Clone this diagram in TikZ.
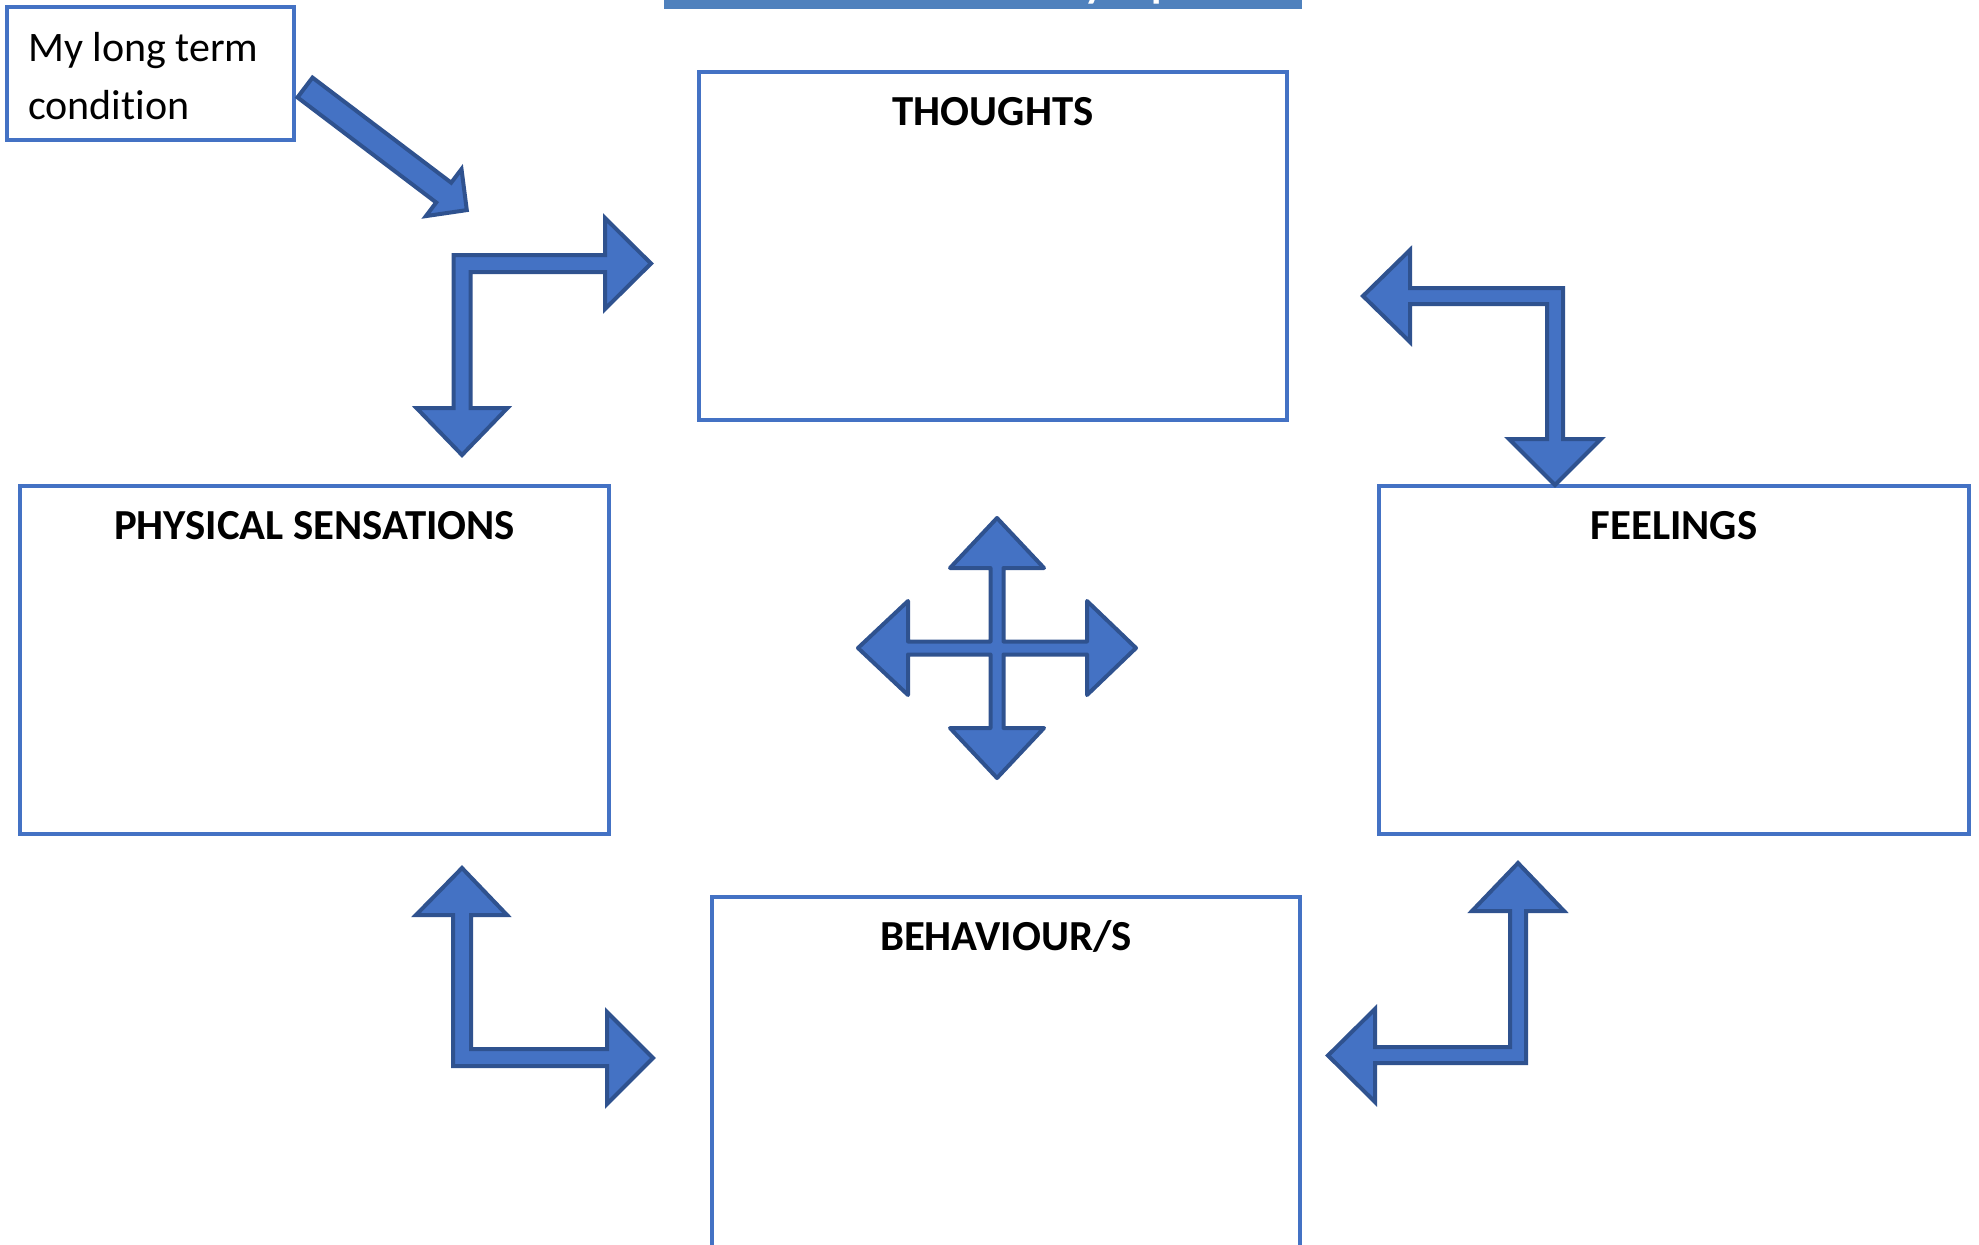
\documentclass[tikz,border=0pt]{standalone}
\usepackage{fontspec}
\setmainfont{Carlito}[Ligatures=CommonOff]
\definecolor{boxblue}{HTML}{4472C4}
\definecolor{arrowfill}{HTML}{4472C4}
\definecolor{arrowline}{HTML}{2F528F}
\definecolor{barblue}{HTML}{4F81BD}

\begin{document}
\begin{tikzpicture}[x=1pt,y=-1pt,
  panel/.style={draw=boxblue, line width=4pt, fill=white, rectangle,
    inner sep=0pt, anchor=north west},
  paneltitle/.style={font=\fontsize{42.8}{50}\selectfont\bfseries,
    anchor=base, inner sep=0pt},
  notetext/.style={font=\fontsize{42}{58}\selectfont, align=left,
    anchor=base west, inner sep=0pt},
  blockarrow/.style={fill=arrowfill, draw=arrowline, line width=4pt,
    line join=miter},
  quadarrow/.style={fill=arrowfill, draw=arrowline, line width=4pt,
    line join=round},
]
\useasboundingbox (0,0) rectangle (1979,1245);

% heading strip along the top edge
\fill[barblue] (664,0) rectangle (1302,9);
\begin{scope}
  \clip (664,0) rectangle (1302,9);
  \node[font=\fontsize{42.5}{50}\selectfont\bfseries, text=white,
        anchor=base west, inner sep=0pt] (heady) at (1084,-3) {y};
  \node[font=\fontsize{42.5}{50}\selectfont\bfseries, text=white,
        anchor=base west, inner sep=0pt] (headp) at (1151,-3) {p};
\end{scope}

% note box (the text node's base is its last line)
\node[panel, minimum width=287pt, minimum height=133pt] (ltc) at (5,5) {};
\node[notetext] (ltctext) at (28,119) {My long term\\condition};

% the four panels
\node[panel, minimum width=588pt, minimum height=348pt] (thoughts) at (697,70) {};
\node[panel, minimum width=589pt, minimum height=348pt] (physical) at (18,484) {};
\node[panel, minimum width=590pt, minimum height=348pt] (feelings) at (1377,484) {};
\node[panel, minimum width=588pt, minimum height=370pt] (behaviour) at (710,895) {};

\node[paneltitle] (thoughtsT)  at ([yshift=-55pt]thoughts.north)  {THOUGHTS};
\node[paneltitle] (physicalT)  at ([yshift=-55pt]physical.north)  {PHYSICAL SENSATIONS};
\node[paneltitle] (feelingsT)  at ([yshift=-55pt]feelings.north)  {FEELINGS};
\node[paneltitle] (behaviourT) at ([yshift=-55pt]behaviour.north) {BEHAVIOUR/S};

% arrow from the note box
\draw[blockarrow] (312.5,77.6) -- (451.2,182.7) -- (461.5,169.1) -- (466.8,210.1)
  -- (425.9,216.1) -- (436.2,202.5) -- (297.5,97.4) -- cycle;

% bent double arrow: physical sensations <-> thoughts
\draw[blockarrow] (453.5,255) -- (605,255) -- (605,218) -- (651,263.5) -- (605,309)
  -- (605,272) -- (470.5,272) -- (470.5,408) -- (507.5,408) -- (462,455)
  -- (416.5,408) -- (453.5,408) -- cycle;

% bent double arrow: thoughts <-> feelings
\draw[blockarrow] (1563,288) -- (1563,439) -- (1601,439) -- (1555,485) -- (1509,439)
  -- (1547,439) -- (1547,304) -- (1410,304) -- (1410,342) -- (1363,296)
  -- (1410,250) -- (1410,288) -- cycle;

% bent double arrow: physical sensations <-> behaviour
\draw[blockarrow] (453,1066) -- (453,915) -- (416,915) -- (462,868) -- (507,915)
  -- (471,915) -- (471,1049) -- (607,1049) -- (607,1012) -- (653,1058)
  -- (607,1104) -- (607,1066) -- cycle;

% bent double arrow: behaviour <-> feelings
\draw[blockarrow] (1526,1063) -- (1375,1063) -- (1375,1102) -- (1328,1055.5)
  -- (1375,1009) -- (1375,1047) -- (1510,1047) -- (1510,911) -- (1472,911)
  -- (1518,863) -- (1564,911) -- (1526,911) -- cycle;

% four-way arrow in the middle
\draw[quadarrow] (997,518) -- (1044,568) -- (1003.5,568) -- (1003.5,641.5)
  -- (1087,641.5) -- (1087,601) -- (1136,648) -- (1087,695) -- (1087,654.5)
  -- (1003.5,654.5) -- (1003.5,728) -- (1044,728) -- (997,778) -- (950,728)
  -- (990.5,728) -- (990.5,654.5) -- (908,654.5) -- (908,695) -- (858,648)
  -- (908,601) -- (908,641.5) -- (990.5,641.5) -- (990.5,568) -- (950,568)
  -- cycle;
\end{tikzpicture}
\end{document}
